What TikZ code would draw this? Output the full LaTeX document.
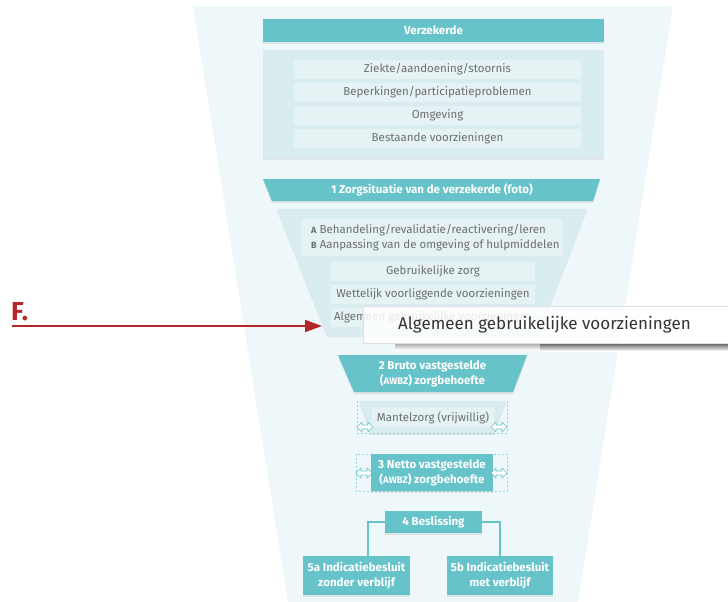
\documentclass[tikz,border=0pt]{standalone}
\usepackage{fontspec}
\setmainfont{Fira Sans}
\usetikzlibrary{arrows.meta,shadows,calc}
\definecolor{teal1}{HTML}{66C3C9}
\definecolor{lightbox}{HTML}{D9EDF0}
\definecolor{rowbg}{HTML}{E5F3F5}
\definecolor{funnelbg}{HTML}{EEF7F9}
\definecolor{txtgray}{HTML}{6D6E70}
\definecolor{fred}{HTML}{B5262A}
\newcommand{\awbz}{{\fontsize{9.5}{9}\selectfont AWBZ}}
\newcommand{\abmark}[1]{{\fontsize{9}{15}\selectfont\bfseries #1}}
\tikzset{
  hdr/.style={fill=teal1,text=white,font=\fontsize{11.5}{15}\selectfont\bfseries,inner sep=0pt,align=center,
     drop shadow={opacity=0.15,shadow xshift=0pt,shadow yshift=-2pt}},
  hdrtext/.style={text=white,font=\fontsize{11.5}{15}\selectfont\bfseries,align=center,inner sep=0pt},
  rowbox/.style={fill=rowbg,text=txtgray,font=\fontsize{11.5}{13}\selectfont,inner sep=0pt,minimum height=19pt},
  lightpanel/.style={fill=lightbox,drop shadow={opacity=0.15,shadow xshift=0pt,shadow yshift=-2pt}},
  dashbox/.style={draw=teal1!70,dash pattern=on 2pt off 2pt,line width=0.5pt},
  conn/.style={draw=teal1,line width=2pt},
  dbl/.pic={\path[fill=white,draw=teal1,line width=0.6pt]
     (-8,0) -- (-3,-5) -- (-3,-2) -- (3,-2) -- (3,-5) -- (8,0) -- (3,5) -- (3,2) -- (-3,2) -- (-3,5) -- cycle;}
}
\begin{document}
\begin{tikzpicture}[x=1pt,y=-1pt]
\useasboundingbox (0,0) rectangle (728,602);
% funnel background
\fill[funnelbg] (193,6) -- (673,6) -- (578,602) -- (288,602) -- cycle;

% Verzekerde
\node[hdr,minimum width=341pt,minimum height=23pt] (verz) at (433.5,30.5) {Verzekerde};
\node[lightpanel,minimum width=341pt,minimum height=108pt,inner sep=0pt] (vpanel) at (433.5,104) {};
\node[rowbox,minimum width=287pt] (r1) at (437.5,69.5) {Ziekte/aandoening/stoornis};
\node[rowbox,minimum width=287pt] (r2) at (437.5,92.5) {Beperkingen/participatieproblemen};
\node[rowbox,minimum width=287pt] (r3) at (437.5,115.5) {Omgeving};
\node[rowbox,minimum width=287pt] (r4) at (437.5,138.5) {Bestaande voorzieningen};

% 1 Zorgsituatie
\path[fill=teal1,drop shadow={opacity=0.15,shadow xshift=0pt,shadow yshift=-2pt}] (263,179) -- (600,179) -- (593,201) -- (272,201) -- cycle;
\node[hdrtext] (z1) at (432,190) {1 Zorgsituatie van de verzekerde (foto)};
\path[lightpanel] (277,209) -- (587,209) -- (538,335) -- (327,335) -- cycle;
\node[fill=rowbg,minimum width=262pt,minimum height=37pt,inner sep=0pt] (ab) at (432,237.5) {};
\node[text=txtgray,font=\fontsize{11.5}{15}\selectfont,inner sep=0pt,align=left,anchor=west] (abtext) at (311,237.5)
  {\abmark{A} Behandeling/revalidatie/reactivering/leren\\
   \abmark{B} Aanpassing van de omgeving of hulpmiddelen};
\node[rowbox,minimum width=204pt] (g1) at (433,271.5) {Gebruikelijke zorg};
\node[rowbox,minimum width=204pt] (g2) at (433,294) {Wettelijk voorliggende voorzieningen};
\node[rowbox,minimum width=204pt] (g3) at (433,317) {Algemeen gebruikelijke voorzieningen};

% overlay tooltip
\shade[top color=black!35,bottom color=white] (395,343) rectangle (540,350);
\shade[top color=black!65,bottom color=white] (540,343) rectangle (728,351);
\node[fill=white,fill opacity=0.85,draw=black!12,line width=1pt,minimum width=365pt,minimum height=37pt,inner sep=0pt,
      anchor=north west] (tip) at (363,306) {};
\node[text=black!80,font=\fontsize{17}{17}\selectfont,anchor=west,inner sep=0pt] (tiptext) at (398,325) {Algemeen gebruikelijke voorzieningen};

% 2 Bruto
\path[fill=teal1,drop shadow={opacity=0.15,shadow xshift=0pt,shadow yshift=-2pt}] (338,355) -- (527,355) -- (513,392) -- (354,392) -- cycle;
\node[hdrtext] (bruto) at (432.5,373.5) {2 Bruto vastgestelde\\(\awbz) zorgbehoefte};

% Mantelzorg
\draw[dashbox] (357,401) rectangle (507,433);
\path[lightpanel] (359,401) -- (506,401) -- (494,433) -- (371,433) -- cycle;
\node[rowbox,minimum width=122pt] (mz) at (433,417.5) {Mantelzorg (vrijwillig)};
\pic at (365,427) {dbl};
\pic at (499,427) {dbl};

% 3 Netto
\draw[dashbox] (356,454) rectangle (507,491);
\node[hdr,minimum width=122pt,minimum height=37pt] (netto) at (432,472.5) {3 Netto vastgestelde\\(\awbz) zorgbehoefte};
\pic at (364,473) {dbl};
\pic at (499,473) {dbl};

% 4 Beslissing and 5a/5b
\node[hdr,minimum width=97pt,minimum height=22pt] (b4) at (433.5,522) {4 Beslissing};
\node[hdr,minimum width=107pt,minimum height=39pt] (b5a) at (356.5,575.5) {5a Indicatiebesluit\\zonder verblijf};
\node[hdr,minimum width=106pt,minimum height=39pt] (b5b) at (500,575.5) {5b Indicatiebesluit\\met verblijf};
\draw[conn] (b4.west) -| ([xshift=11.5pt]b5a.north);
\draw[conn] (b4.east) -| (b5b.north);

% F. arrow
\node[text=fred,font=\fontsize{26}{26}\selectfont\bfseries,anchor=base west,inner sep=0pt] (F) at (11,320) {F.};
\coordinate (fstart) at (12,326);
\coordinate (fend) at (322,326);
\draw[fred,line width=2pt,-{Triangle[length=17pt,width=12pt]}] (fstart) -- (fend);
\end{tikzpicture}
\end{document}
